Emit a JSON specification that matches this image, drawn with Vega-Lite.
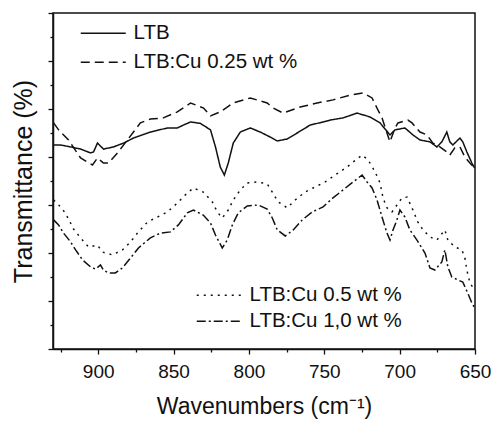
{
  "$schema": "https://vega.github.io/schema/vega-lite/v6.json",
  "width": 422,
  "height": 336,
  "autosize": "none",
  "padding": {"left": 53, "top": 13, "right": 16, "bottom": 73},
  "config": {
    "font": "Liberation Sans",
    "view": {"stroke": "#111", "strokeWidth": 1.5},
    "axis": {"domainColor": "#111", "domainWidth": 1.5, "tickColor": "#111", "tickWidth": 1.3, "labelColor": "#111", "titleColor": "#111", "grid": false, "titleFontWeight": "normal", "labelFont": "Liberation Sans", "titleFont": "Liberation Sans"}
  },
  "datasets": {
    "upper": [
      {"sample": "LTB", "wavenumber": 929.6, "transmittance": 8.5},
      {"sample": "LTB", "wavenumber": 925.0, "transmittance": 8.5},
      {"sample": "LTB", "wavenumber": 918.3, "transmittance": 8.42},
      {"sample": "LTB", "wavenumber": 911.7, "transmittance": 8.33},
      {"sample": "LTB", "wavenumber": 905.1, "transmittance": 8.17},
      {"sample": "LTB", "wavenumber": 903.1, "transmittance": 8.21},
      {"sample": "LTB", "wavenumber": 900.5, "transmittance": 8.58},
      {"sample": "LTB", "wavenumber": 896.5, "transmittance": 8.33},
      {"sample": "LTB", "wavenumber": 889.9, "transmittance": 8.42},
      {"sample": "LTB", "wavenumber": 883.2, "transmittance": 8.58},
      {"sample": "LTB", "wavenumber": 876.6, "transmittance": 8.79},
      {"sample": "LTB", "wavenumber": 865.4, "transmittance": 9.04},
      {"sample": "LTB", "wavenumber": 854.1, "transmittance": 9.21},
      {"sample": "LTB", "wavenumber": 847.5, "transmittance": 9.21},
      {"sample": "LTB", "wavenumber": 843.5, "transmittance": 9.33},
      {"sample": "LTB", "wavenumber": 838.7, "transmittance": 9.46},
      {"sample": "LTB", "wavenumber": 832.2, "transmittance": 9.4},
      {"sample": "LTB", "wavenumber": 825.5, "transmittance": 9.13},
      {"sample": "LTB", "wavenumber": 822.2, "transmittance": 8.42},
      {"sample": "LTB", "wavenumber": 819.0, "transmittance": 7.58},
      {"sample": "LTB", "wavenumber": 816.3, "transmittance": 7.25},
      {"sample": "LTB", "wavenumber": 813.7, "transmittance": 7.75},
      {"sample": "LTB", "wavenumber": 810.4, "transmittance": 8.58},
      {"sample": "LTB", "wavenumber": 805.7, "transmittance": 9.04},
      {"sample": "LTB", "wavenumber": 799.1, "transmittance": 9.21},
      {"sample": "LTB", "wavenumber": 792.5, "transmittance": 9.04},
      {"sample": "LTB", "wavenumber": 785.8, "transmittance": 8.83},
      {"sample": "LTB", "wavenumber": 781.2, "transmittance": 8.67},
      {"sample": "LTB", "wavenumber": 774.6, "transmittance": 8.75},
      {"sample": "LTB", "wavenumber": 768.0, "transmittance": 9.0},
      {"sample": "LTB", "wavenumber": 759.4, "transmittance": 9.33},
      {"sample": "LTB", "wavenumber": 750.8, "transmittance": 9.46},
      {"sample": "LTB", "wavenumber": 746.0, "transmittance": 9.54},
      {"sample": "LTB", "wavenumber": 737.5, "transmittance": 9.63},
      {"sample": "LTB", "wavenumber": 728.3, "transmittance": 9.83},
      {"sample": "LTB", "wavenumber": 719.7, "transmittance": 9.67},
      {"sample": "LTB", "wavenumber": 713.0, "transmittance": 9.42},
      {"sample": "LTB", "wavenumber": 706.4, "transmittance": 8.92},
      {"sample": "LTB", "wavenumber": 703.1, "transmittance": 9.13},
      {"sample": "LTB", "wavenumber": 696.5, "transmittance": 9.21},
      {"sample": "LTB", "wavenumber": 691.2, "transmittance": 8.92},
      {"sample": "LTB", "wavenumber": 686.5, "transmittance": 8.71},
      {"sample": "LTB", "wavenumber": 679.9, "transmittance": 8.63},
      {"sample": "LTB", "wavenumber": 675.3, "transmittance": 8.42},
      {"sample": "LTB", "wavenumber": 672.0, "transmittance": 8.63},
      {"sample": "LTB", "wavenumber": 668.7, "transmittance": 9.04},
      {"sample": "LTB", "wavenumber": 666.7, "transmittance": 8.63},
      {"sample": "LTB", "wavenumber": 664.7, "transmittance": 8.5},
      {"sample": "LTB", "wavenumber": 660.0, "transmittance": 8.79},
      {"sample": "LTB", "wavenumber": 658.1, "transmittance": 8.63},
      {"sample": "LTB", "wavenumber": 655.4, "transmittance": 8.21},
      {"sample": "LTB", "wavenumber": 652.1, "transmittance": 7.75},
      {"sample": "LTB", "wavenumber": 650.2, "transmittance": 7.54},
      {"sample": "LTB:Cu 0.25 wt %", "wavenumber": 929.6, "transmittance": 9.42},
      {"sample": "LTB:Cu 0.25 wt %", "wavenumber": 926.3, "transmittance": 9.13},
      {"sample": "LTB:Cu 0.25 wt %", "wavenumber": 919.7, "transmittance": 8.71},
      {"sample": "LTB:Cu 0.25 wt %", "wavenumber": 911.7, "transmittance": 7.96},
      {"sample": "LTB:Cu 0.25 wt %", "wavenumber": 903.8, "transmittance": 7.67},
      {"sample": "LTB:Cu 0.25 wt %", "wavenumber": 900.5, "transmittance": 7.96},
      {"sample": "LTB:Cu 0.25 wt %", "wavenumber": 896.5, "transmittance": 7.75},
      {"sample": "LTB:Cu 0.25 wt %", "wavenumber": 893.2, "transmittance": 7.75},
      {"sample": "LTB:Cu 0.25 wt %", "wavenumber": 887.2, "transmittance": 8.17},
      {"sample": "LTB:Cu 0.25 wt %", "wavenumber": 880.6, "transmittance": 8.71},
      {"sample": "LTB:Cu 0.25 wt %", "wavenumber": 872.0, "transmittance": 9.42},
      {"sample": "LTB:Cu 0.25 wt %", "wavenumber": 865.4, "transmittance": 9.58},
      {"sample": "LTB:Cu 0.25 wt %", "wavenumber": 856.8, "transmittance": 9.63},
      {"sample": "LTB:Cu 0.25 wt %", "wavenumber": 847.5, "transmittance": 9.88},
      {"sample": "LTB:Cu 0.25 wt %", "wavenumber": 838.7, "transmittance": 10.25},
      {"sample": "LTB:Cu 0.25 wt %", "wavenumber": 830.1, "transmittance": 10.04},
      {"sample": "LTB:Cu 0.25 wt %", "wavenumber": 825.5, "transmittance": 9.71},
      {"sample": "LTB:Cu 0.25 wt %", "wavenumber": 819.0, "transmittance": 9.88},
      {"sample": "LTB:Cu 0.25 wt %", "wavenumber": 810.4, "transmittance": 10.25},
      {"sample": "LTB:Cu 0.25 wt %", "wavenumber": 799.1, "transmittance": 10.46},
      {"sample": "LTB:Cu 0.25 wt %", "wavenumber": 787.9, "transmittance": 10.25},
      {"sample": "LTB:Cu 0.25 wt %", "wavenumber": 783.9, "transmittance": 10.04},
      {"sample": "LTB:Cu 0.25 wt %", "wavenumber": 777.3, "transmittance": 9.83},
      {"sample": "LTB:Cu 0.25 wt %", "wavenumber": 766.0, "transmittance": 10.08},
      {"sample": "LTB:Cu 0.25 wt %", "wavenumber": 754.8, "transmittance": 10.25},
      {"sample": "LTB:Cu 0.25 wt %", "wavenumber": 744.2, "transmittance": 10.38},
      {"sample": "LTB:Cu 0.25 wt %", "wavenumber": 732.9, "transmittance": 10.58},
      {"sample": "LTB:Cu 0.25 wt %", "wavenumber": 724.3, "transmittance": 10.67},
      {"sample": "LTB:Cu 0.25 wt %", "wavenumber": 718.3, "transmittance": 10.46},
      {"sample": "LTB:Cu 0.25 wt %", "wavenumber": 714.4, "transmittance": 9.96},
      {"sample": "LTB:Cu 0.25 wt %", "wavenumber": 711.7, "transmittance": 9.63},
      {"sample": "LTB:Cu 0.25 wt %", "wavenumber": 709.7, "transmittance": 9.25},
      {"sample": "LTB:Cu 0.25 wt %", "wavenumber": 706.4, "transmittance": 8.63},
      {"sample": "LTB:Cu 0.25 wt %", "wavenumber": 703.1, "transmittance": 9.21},
      {"sample": "LTB:Cu 0.25 wt %", "wavenumber": 701.1, "transmittance": 9.42},
      {"sample": "LTB:Cu 0.25 wt %", "wavenumber": 694.5, "transmittance": 9.54},
      {"sample": "LTB:Cu 0.25 wt %", "wavenumber": 691.8, "transmittance": 9.42},
      {"sample": "LTB:Cu 0.25 wt %", "wavenumber": 686.5, "transmittance": 9.04},
      {"sample": "LTB:Cu 0.25 wt %", "wavenumber": 681.9, "transmittance": 8.92},
      {"sample": "LTB:Cu 0.25 wt %", "wavenumber": 677.9, "transmittance": 8.58},
      {"sample": "LTB:Cu 0.25 wt %", "wavenumber": 673.3, "transmittance": 8.42},
      {"sample": "LTB:Cu 0.25 wt %", "wavenumber": 668.7, "transmittance": 8.21},
      {"sample": "LTB:Cu 0.25 wt %", "wavenumber": 666.7, "transmittance": 8.08},
      {"sample": "LTB:Cu 0.25 wt %", "wavenumber": 663.4, "transmittance": 8.38},
      {"sample": "LTB:Cu 0.25 wt %", "wavenumber": 660.0, "transmittance": 8.42},
      {"sample": "LTB:Cu 0.25 wt %", "wavenumber": 656.7, "transmittance": 8.0},
      {"sample": "LTB:Cu 0.25 wt %", "wavenumber": 653.4, "transmittance": 7.75},
      {"sample": "LTB:Cu 0.25 wt %", "wavenumber": 650.2, "transmittance": 7.54}
    ],
    "lower": [
      {"sample": "LTB:Cu 0.5 wt %", "wavenumber": 929.6, "transmittance": 6.21},
      {"sample": "LTB:Cu 0.5 wt %", "wavenumber": 928.3, "transmittance": 6.13},
      {"sample": "LTB:Cu 0.5 wt %", "wavenumber": 923.6, "transmittance": 5.83},
      {"sample": "LTB:Cu 0.5 wt %", "wavenumber": 919.7, "transmittance": 5.42},
      {"sample": "LTB:Cu 0.5 wt %", "wavenumber": 916.4, "transmittance": 5.0},
      {"sample": "LTB:Cu 0.5 wt %", "wavenumber": 911.7, "transmittance": 4.63},
      {"sample": "LTB:Cu 0.5 wt %", "wavenumber": 906.4, "transmittance": 4.25},
      {"sample": "LTB:Cu 0.5 wt %", "wavenumber": 900.5, "transmittance": 4.33},
      {"sample": "LTB:Cu 0.5 wt %", "wavenumber": 897.2, "transmittance": 4.04},
      {"sample": "LTB:Cu 0.5 wt %", "wavenumber": 890.5, "transmittance": 3.92},
      {"sample": "LTB:Cu 0.5 wt %", "wavenumber": 883.9, "transmittance": 4.13},
      {"sample": "LTB:Cu 0.5 wt %", "wavenumber": 878.6, "transmittance": 4.46},
      {"sample": "LTB:Cu 0.5 wt %", "wavenumber": 873.3, "transmittance": 4.88},
      {"sample": "LTB:Cu 0.5 wt %", "wavenumber": 867.3, "transmittance": 5.29},
      {"sample": "LTB:Cu 0.5 wt %", "wavenumber": 860.7, "transmittance": 5.5},
      {"sample": "LTB:Cu 0.5 wt %", "wavenumber": 854.1, "transmittance": 5.71},
      {"sample": "LTB:Cu 0.5 wt %", "wavenumber": 847.5, "transmittance": 6.08},
      {"sample": "LTB:Cu 0.5 wt %", "wavenumber": 842.2, "transmittance": 6.42},
      {"sample": "LTB:Cu 0.5 wt %", "wavenumber": 836.9, "transmittance": 6.71},
      {"sample": "LTB:Cu 0.5 wt %", "wavenumber": 830.3, "transmittance": 6.54},
      {"sample": "LTB:Cu 0.5 wt %", "wavenumber": 824.3, "transmittance": 6.13},
      {"sample": "LTB:Cu 0.5 wt %", "wavenumber": 821.0, "transmittance": 5.71},
      {"sample": "LTB:Cu 0.5 wt %", "wavenumber": 817.7, "transmittance": 5.46},
      {"sample": "LTB:Cu 0.5 wt %", "wavenumber": 813.7, "transmittance": 5.79},
      {"sample": "LTB:Cu 0.5 wt %", "wavenumber": 810.4, "transmittance": 6.21},
      {"sample": "LTB:Cu 0.5 wt %", "wavenumber": 805.7, "transmittance": 6.63},
      {"sample": "LTB:Cu 0.5 wt %", "wavenumber": 801.1, "transmittance": 6.92},
      {"sample": "LTB:Cu 0.5 wt %", "wavenumber": 794.5, "transmittance": 6.96},
      {"sample": "LTB:Cu 0.5 wt %", "wavenumber": 787.9, "transmittance": 6.88},
      {"sample": "LTB:Cu 0.5 wt %", "wavenumber": 784.5, "transmittance": 6.54},
      {"sample": "LTB:Cu 0.5 wt %", "wavenumber": 780.6, "transmittance": 6.13},
      {"sample": "LTB:Cu 0.5 wt %", "wavenumber": 774.6, "transmittance": 5.88},
      {"sample": "LTB:Cu 0.5 wt %", "wavenumber": 769.3, "transmittance": 6.21},
      {"sample": "LTB:Cu 0.5 wt %", "wavenumber": 762.7, "transmittance": 6.54},
      {"sample": "LTB:Cu 0.5 wt %", "wavenumber": 756.1, "transmittance": 6.75},
      {"sample": "LTB:Cu 0.5 wt %", "wavenumber": 749.4, "transmittance": 6.96},
      {"sample": "LTB:Cu 0.5 wt %", "wavenumber": 742.8, "transmittance": 7.25},
      {"sample": "LTB:Cu 0.5 wt %", "wavenumber": 734.9, "transmittance": 7.58},
      {"sample": "LTB:Cu 0.5 wt %", "wavenumber": 730.9, "transmittance": 7.79},
      {"sample": "LTB:Cu 0.5 wt %", "wavenumber": 724.9, "transmittance": 8.08},
      {"sample": "LTB:Cu 0.5 wt %", "wavenumber": 720.9, "transmittance": 7.88},
      {"sample": "LTB:Cu 0.5 wt %", "wavenumber": 716.3, "transmittance": 7.38},
      {"sample": "LTB:Cu 0.5 wt %", "wavenumber": 713.0, "transmittance": 6.92},
      {"sample": "LTB:Cu 0.5 wt %", "wavenumber": 711.0, "transmittance": 6.29},
      {"sample": "LTB:Cu 0.5 wt %", "wavenumber": 708.4, "transmittance": 5.88},
      {"sample": "LTB:Cu 0.5 wt %", "wavenumber": 705.1, "transmittance": 5.71},
      {"sample": "LTB:Cu 0.5 wt %", "wavenumber": 701.8, "transmittance": 6.0},
      {"sample": "LTB:Cu 0.5 wt %", "wavenumber": 698.5, "transmittance": 6.29},
      {"sample": "LTB:Cu 0.5 wt %", "wavenumber": 695.1, "transmittance": 6.33},
      {"sample": "LTB:Cu 0.5 wt %", "wavenumber": 691.8, "transmittance": 5.88},
      {"sample": "LTB:Cu 0.5 wt %", "wavenumber": 687.9, "transmittance": 5.29},
      {"sample": "LTB:Cu 0.5 wt %", "wavenumber": 684.5, "transmittance": 4.96},
      {"sample": "LTB:Cu 0.5 wt %", "wavenumber": 679.9, "transmittance": 4.67},
      {"sample": "LTB:Cu 0.5 wt %", "wavenumber": 675.3, "transmittance": 4.54},
      {"sample": "LTB:Cu 0.5 wt %", "wavenumber": 670.0, "transmittance": 4.96},
      {"sample": "LTB:Cu 0.5 wt %", "wavenumber": 668.0, "transmittance": 4.54},
      {"sample": "LTB:Cu 0.5 wt %", "wavenumber": 663.4, "transmittance": 4.25},
      {"sample": "LTB:Cu 0.5 wt %", "wavenumber": 658.7, "transmittance": 4.13},
      {"sample": "LTB:Cu 0.5 wt %", "wavenumber": 656.7, "transmittance": 3.79},
      {"sample": "LTB:Cu 0.5 wt %", "wavenumber": 655.4, "transmittance": 3.29},
      {"sample": "LTB:Cu 0.5 wt %", "wavenumber": 653.4, "transmittance": 2.75},
      {"sample": "LTB:Cu 0.5 wt %", "wavenumber": 650.2, "transmittance": 2.46},
      {"sample": "LTB:Cu 1,0 wt %", "wavenumber": 929.6, "transmittance": 5.38},
      {"sample": "LTB:Cu 1,0 wt %", "wavenumber": 926.3, "transmittance": 5.17},
      {"sample": "LTB:Cu 1,0 wt %", "wavenumber": 923.0, "transmittance": 4.83},
      {"sample": "LTB:Cu 1,0 wt %", "wavenumber": 918.3, "transmittance": 4.46},
      {"sample": "LTB:Cu 1,0 wt %", "wavenumber": 915.0, "transmittance": 4.13},
      {"sample": "LTB:Cu 1,0 wt %", "wavenumber": 910.4, "transmittance": 3.71},
      {"sample": "LTB:Cu 1,0 wt %", "wavenumber": 905.1, "transmittance": 3.42},
      {"sample": "LTB:Cu 1,0 wt %", "wavenumber": 901.8, "transmittance": 3.33},
      {"sample": "LTB:Cu 1,0 wt %", "wavenumber": 898.5, "transmittance": 3.5},
      {"sample": "LTB:Cu 1,0 wt %", "wavenumber": 896.5, "transmittance": 3.29},
      {"sample": "LTB:Cu 1,0 wt %", "wavenumber": 893.2, "transmittance": 3.17},
      {"sample": "LTB:Cu 1,0 wt %", "wavenumber": 888.6, "transmittance": 3.17},
      {"sample": "LTB:Cu 1,0 wt %", "wavenumber": 883.9, "transmittance": 3.38},
      {"sample": "LTB:Cu 1,0 wt %", "wavenumber": 878.6, "transmittance": 3.79},
      {"sample": "LTB:Cu 1,0 wt %", "wavenumber": 873.3, "transmittance": 4.21},
      {"sample": "LTB:Cu 1,0 wt %", "wavenumber": 865.4, "transmittance": 4.63},
      {"sample": "LTB:Cu 1,0 wt %", "wavenumber": 858.7, "transmittance": 4.83},
      {"sample": "LTB:Cu 1,0 wt %", "wavenumber": 852.1, "transmittance": 4.88},
      {"sample": "LTB:Cu 1,0 wt %", "wavenumber": 846.8, "transmittance": 5.17},
      {"sample": "LTB:Cu 1,0 wt %", "wavenumber": 840.9, "transmittance": 5.67},
      {"sample": "LTB:Cu 1,0 wt %", "wavenumber": 836.9, "transmittance": 5.79},
      {"sample": "LTB:Cu 1,0 wt %", "wavenumber": 830.3, "transmittance": 5.58},
      {"sample": "LTB:Cu 1,0 wt %", "wavenumber": 825.5, "transmittance": 5.25},
      {"sample": "LTB:Cu 1,0 wt %", "wavenumber": 822.2, "transmittance": 4.75},
      {"sample": "LTB:Cu 1,0 wt %", "wavenumber": 817.7, "transmittance": 4.21},
      {"sample": "LTB:Cu 1,0 wt %", "wavenumber": 814.4, "transmittance": 4.54},
      {"sample": "LTB:Cu 1,0 wt %", "wavenumber": 811.0, "transmittance": 5.17},
      {"sample": "LTB:Cu 1,0 wt %", "wavenumber": 807.1, "transmittance": 5.67},
      {"sample": "LTB:Cu 1,0 wt %", "wavenumber": 801.1, "transmittance": 5.96},
      {"sample": "LTB:Cu 1,0 wt %", "wavenumber": 793.8, "transmittance": 6.0},
      {"sample": "LTB:Cu 1,0 wt %", "wavenumber": 787.9, "transmittance": 5.83},
      {"sample": "LTB:Cu 1,0 wt %", "wavenumber": 784.5, "transmittance": 5.46},
      {"sample": "LTB:Cu 1,0 wt %", "wavenumber": 781.2, "transmittance": 4.96},
      {"sample": "LTB:Cu 1,0 wt %", "wavenumber": 775.9, "transmittance": 4.71},
      {"sample": "LTB:Cu 1,0 wt %", "wavenumber": 770.6, "transmittance": 4.96},
      {"sample": "LTB:Cu 1,0 wt %", "wavenumber": 764.6, "transmittance": 5.38},
      {"sample": "LTB:Cu 1,0 wt %", "wavenumber": 758.0, "transmittance": 5.71},
      {"sample": "LTB:Cu 1,0 wt %", "wavenumber": 750.8, "transmittance": 5.92},
      {"sample": "LTB:Cu 1,0 wt %", "wavenumber": 744.2, "transmittance": 6.3},
      {"sample": "LTB:Cu 1,0 wt %", "wavenumber": 737.5, "transmittance": 6.63},
      {"sample": "LTB:Cu 1,0 wt %", "wavenumber": 730.9, "transmittance": 6.96},
      {"sample": "LTB:Cu 1,0 wt %", "wavenumber": 724.9, "transmittance": 7.25},
      {"sample": "LTB:Cu 1,0 wt %", "wavenumber": 721.6, "transmittance": 6.96},
      {"sample": "LTB:Cu 1,0 wt %", "wavenumber": 718.3, "transmittance": 6.71},
      {"sample": "LTB:Cu 1,0 wt %", "wavenumber": 715.0, "transmittance": 6.21},
      {"sample": "LTB:Cu 1,0 wt %", "wavenumber": 711.7, "transmittance": 5.5},
      {"sample": "LTB:Cu 1,0 wt %", "wavenumber": 708.4, "transmittance": 4.83},
      {"sample": "LTB:Cu 1,0 wt %", "wavenumber": 706.4, "transmittance": 4.54},
      {"sample": "LTB:Cu 1,0 wt %", "wavenumber": 704.4, "transmittance": 4.96},
      {"sample": "LTB:Cu 1,0 wt %", "wavenumber": 701.8, "transmittance": 5.38},
      {"sample": "LTB:Cu 1,0 wt %", "wavenumber": 699.8, "transmittance": 5.79},
      {"sample": "LTB:Cu 1,0 wt %", "wavenumber": 696.5, "transmittance": 5.5},
      {"sample": "LTB:Cu 1,0 wt %", "wavenumber": 693.2, "transmittance": 4.96},
      {"sample": "LTB:Cu 1,0 wt %", "wavenumber": 688.5, "transmittance": 4.54},
      {"sample": "LTB:Cu 1,0 wt %", "wavenumber": 683.2, "transmittance": 4.0},
      {"sample": "LTB:Cu 1,0 wt %", "wavenumber": 679.9, "transmittance": 3.38},
      {"sample": "LTB:Cu 1,0 wt %", "wavenumber": 676.6, "transmittance": 3.29},
      {"sample": "LTB:Cu 1,0 wt %", "wavenumber": 672.0, "transmittance": 3.63},
      {"sample": "LTB:Cu 1,0 wt %", "wavenumber": 670.0, "transmittance": 4.13},
      {"sample": "LTB:Cu 1,0 wt %", "wavenumber": 668.0, "transmittance": 3.42},
      {"sample": "LTB:Cu 1,0 wt %", "wavenumber": 665.4, "transmittance": 3.0},
      {"sample": "LTB:Cu 1,0 wt %", "wavenumber": 661.4, "transmittance": 2.88},
      {"sample": "LTB:Cu 1,0 wt %", "wavenumber": 658.1, "transmittance": 2.79},
      {"sample": "LTB:Cu 1,0 wt %", "wavenumber": 654.8, "transmittance": 2.33},
      {"sample": "LTB:Cu 1,0 wt %", "wavenumber": 652.1, "transmittance": 1.92},
      {"sample": "LTB:Cu 1,0 wt %", "wavenumber": 650.2, "transmittance": 1.71}
    ]
  },
  "encoding": {
    "x": {
      "field": "wavenumber",
      "type": "quantitative",
      "scale": {"domain": [930, 650], "nice": false, "zero": false},
      "axis": {
        "title": "Wavenumbers (cm⁻¹)",
        "titleFontSize": 23,
        "titlePadding": 14,
        "values": [925, 900, 875, 850, 825, 800, 775, 750, 725, 700, 675, 650],
        "labelExpr": "datum.value % 50 === 0 ? datum.label : ''",
        "labelFontSize": 19,
        "labelPadding": 8,
        "labelFlush": false,
        "labelOverlap": false,
        "tickSize": {"condition": {"test": "datum.value % 50 === 0", "value": 5}, "value": 3}
      }
    },
    "y": {
      "field": "transmittance",
      "type": "quantitative",
      "scale": {"domain": [0, 14], "nice": false, "zero": false},
      "axis": {
        "title": "Transmittance (%)",
        "titleFontSize": 25,
        "titlePadding": 11,
        "values": [0, 1, 2, 3, 4, 5, 6, 7, 8, 9, 10, 11, 12, 13, 14],
        "labels": false,
        "tickSize": {"condition": {"test": "datum.value % 2 === 0", "value": 5}, "value": 3}
      }
    }
  },
  "layer": [
    {
      "data": {"name": "upper"},
      "mark": {"type": "line", "color": "#111", "strokeWidth": 1.5},
      "encoding": {
        "strokeDash": {
          "field": "sample",
          "type": "nominal",
          "scale": {"domain": ["LTB", "LTB:Cu 0.25 wt %"], "range": [[1, 0], [9, 5]]},
          "legend": {
            "orient": "none",
            "legendX": 40,
            "legendY": 10,
            "title": null,
            "padding": 0,
            "symbolType": "M-3,0H3",
            "symbolSize": 225,
            "symbolStrokeWidth": 1.5,
            "symbolStrokeColor": "#111",
            "labelFontSize": 20.5,
            "labelColor": "#111",
            "labelOffset": 20,
            "labelLimit": 400,
            "rowPadding": 8
          }
        }
      }
    },
    {
      "data": {"name": "lower"},
      "mark": {"type": "line", "color": "#111", "strokeWidth": 1.5},
      "encoding": {
        "strokeDash": {
          "field": "sample",
          "type": "nominal",
          "scale": {"domain": ["LTB:Cu 0.5 wt %", "LTB:Cu 1,0 wt %"], "range": [[2, 5], [9, 3, 2, 3]]},
          "legend": {
            "orient": "none",
            "legendX": 156,
            "legendY": 272,
            "title": null,
            "padding": 0,
            "symbolType": "M-3,0H3",
            "symbolSize": 225,
            "symbolStrokeWidth": 1.5,
            "symbolStrokeColor": "#111",
            "labelFontSize": 20.5,
            "labelColor": "#111",
            "labelOffset": 20,
            "labelLimit": 400,
            "rowPadding": 5
          }
        }
      }
    }
  ],
  "resolve": {"scale": {"strokeDash": "independent"}}
}
